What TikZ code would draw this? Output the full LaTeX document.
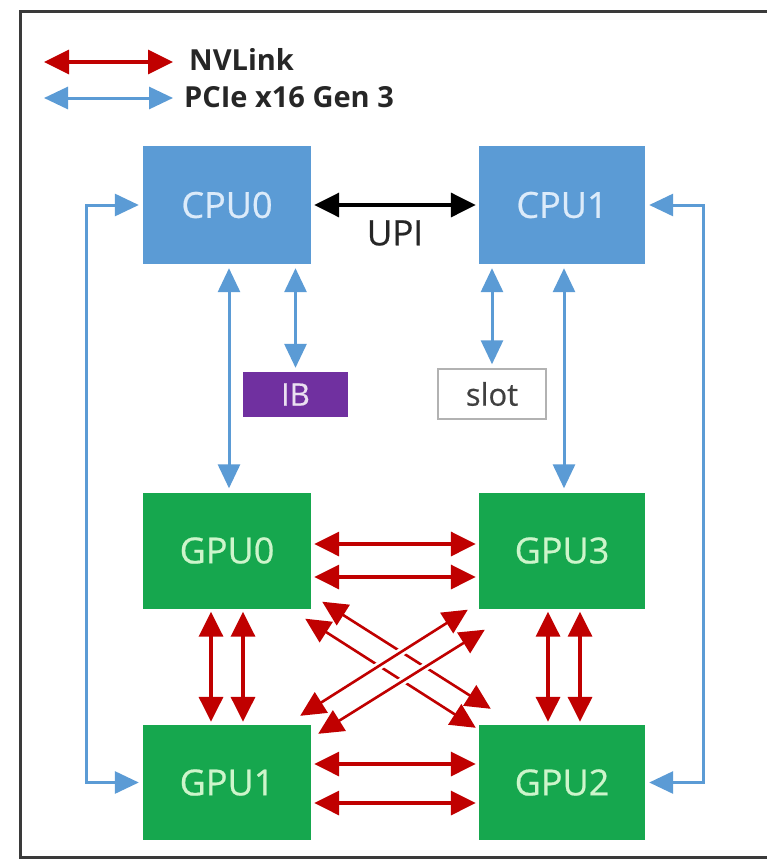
\documentclass[tikz,border=0pt]{standalone}
\usepackage{fontspec}
\setmainfont{Open Sans}
\newfontfamily\boxfont[FakeBold=0.6]{Open Sans}
\usetikzlibrary{arrows.meta}
\definecolor{cpublue}{HTML}{5B9BD5}
\definecolor{gpugreen}{HTML}{16A74E}
\definecolor{ibpurple}{HTML}{7030A0}
\definecolor{nvred}{HTML}{C00000}
\definecolor{pcieblue}{HTML}{5B9BD5}
\definecolor{framegray}{HTML}{3A3A3A}
\definecolor{cputext}{HTML}{DCEBFA}
\definecolor{gputext}{HTML}{CDF5CB}
\tikzset{
  cpubox/.style={fill=cpublue, draw=none, minimum width=168pt, minimum height=118pt, text=cputext, font=\boxfont\fontsize{36}{40}\selectfont},
  gpubox/.style={fill=gpugreen, draw=none, minimum width=168pt, minimum height=116pt, text=gputext, font=\boxfont\fontsize{36}{40}\selectfont},
  nv/.style={draw=nvred, line width=3.5pt, {Triangle[length=25pt,width=24pt]}-{Triangle[length=25pt,width=24pt]}, shorten <=3pt, shorten >=3pt},
  pcie/.style={draw=pcieblue, line width=3pt, {Triangle[length=24pt,width=22pt]}-{Triangle[length=24pt,width=22pt]}, shorten <=4pt, shorten >=4pt},
  upi/.style={draw=black, line width=3.5pt, {Triangle[length=25pt,width=24pt]}-{Triangle[length=25pt,width=24pt]}, shorten <=3pt, shorten >=3pt},
  legtext/.style={anchor=west, font=\bfseries\fontsize{29}{32}\selectfont, text={black!85}, inner sep=0pt},
  bridge/.style={preaction={draw=white, line width=8pt, arrows=-, shorten <=30pt, shorten >=30pt}}
}
\begin{document}
\begin{tikzpicture}[x=1pt,y=-1pt]
\useasboundingbox (0,0) rectangle (766,862);
\fill[white] (0,0) rectangle (766,862);
\draw[framegray, line width=3pt] (20,11) rectangle (790,857);
% legend
\coordinate (l1a) at (44,62); \coordinate (l1b) at (173,62);
\coordinate (l2a) at (44,98); \coordinate (l2b) at (173,98);
\draw[nv, shorten <=0pt, shorten >=0pt] (l1a) -- (l1b);
\draw[pcie, shorten <=0pt, shorten >=0pt] (l2a) -- (l2b);
\node[legtext] (lnv) at (189,59) {NVLink};
\node[legtext] (lpc) at (184,97) {PCIe x16 Gen 3};
% boxes
\node[cpubox] (cpu0) at (227,205) {CPU0};
\node[cpubox, minimum width=166pt] (cpu1) at (562,205) {CPU1};
\node[gpubox] (gpu0) at (227,550.5) {GPU0};
\node[gpubox, minimum width=166pt] (gpu3) at (562,550.5) {GPU3};
\node[gpubox, minimum height=115pt] (gpu1) at (227,782.5) {GPU1};
\node[gpubox, minimum width=166pt, minimum height=115pt] (gpu2) at (562,782.5) {GPU2};
\node[fill=ibpurple, minimum width=105pt, minimum height=45pt, text={white!85!ibpurple}, font=\boxfont\fontsize{31}{34}\selectfont, inner sep=0pt] (ib) at (295.5,394.5) {IB};
\node[fill=white, draw=black!30, line width=1.5pt, minimum width=108pt, minimum height=50pt, text={black!75}, font=\boxfont\fontsize{31}{34}\selectfont, inner sep=0pt] (slot) at (492,394) {slot};
% UPI
\draw[upi] (cpu0.east) -- (cpu1.east -| cpu1.west);
\node[font=\boxfont\fontsize{35}{38}\selectfont, text={black!85}] (upil) at (395,233) {UPI};
% PCIe vertical
\draw[pcie] ([xshift=2pt]cpu0.south) -- ([xshift=2pt]gpu0.north);
\draw[pcie] (cpu0.south -| ib.north) -- (ib.north);
\draw[pcie] (cpu1.south -| slot.north) -- (slot.north);
\draw[pcie] ([xshift=2pt]cpu1.south) -- ([xshift=2pt]gpu3.north);
% PCIe outer loops
\draw[pcie] (cpu0.west) -- ++(-56,0) |- (gpu1.west);
\draw[pcie] (cpu1.east) -- ++(58,0) |- (gpu2.east);
% NVLink horizontal
\draw[nv] ([yshift=6.5pt]gpu0.east) -- ([yshift=6.5pt]gpu3.west);
\draw[nv] ([yshift=-26.5pt]gpu0.east) -- ([yshift=-26.5pt]gpu3.west);
\draw[nv] ([yshift=18.5pt]gpu1.east) -- ([yshift=18.5pt]gpu2.west);
\draw[nv] ([yshift=-20.5pt]gpu1.east) -- ([yshift=-20.5pt]gpu2.west);
% NVLink vertical
\draw[nv] ([xshift=-16pt]gpu0.south) -- ([xshift=-16pt]gpu1.north);
\draw[nv] ([xshift=16pt]gpu0.south) -- ([xshift=16pt]gpu1.north);
\draw[nv] ([xshift=-14pt]gpu3.south) -- ([xshift=-14pt]gpu2.north);
\draw[nv] ([xshift=18pt]gpu3.south) -- ([xshift=18pt]gpu2.north);
% NVLink diagonals
\draw[nv, line width=2.6pt, shorten <=0pt, shorten >=0pt] ([shift={(11,-7)}]gpu0.south east) -- ([shift={(12,-16)}]gpu2.north west);
\draw[nv, line width=2.6pt, shorten <=0pt, shorten >=0pt] ([shift={(-6,10)}]gpu0.south east) -- ([shift={(-3,3)}]gpu2.north west);
\draw[nv, line width=2.6pt, shorten <=0pt, shorten >=0pt, bridge] ([shift={(-11,1)}]gpu3.south west) -- ([shift={(-11,-9)}]gpu1.north east);
\draw[nv, line width=2.6pt, shorten <=0pt, shorten >=0pt, bridge] ([shift={(6,21)}]gpu3.south west) -- ([shift={(7,9)}]gpu1.north east);
\end{tikzpicture}
\end{document}
